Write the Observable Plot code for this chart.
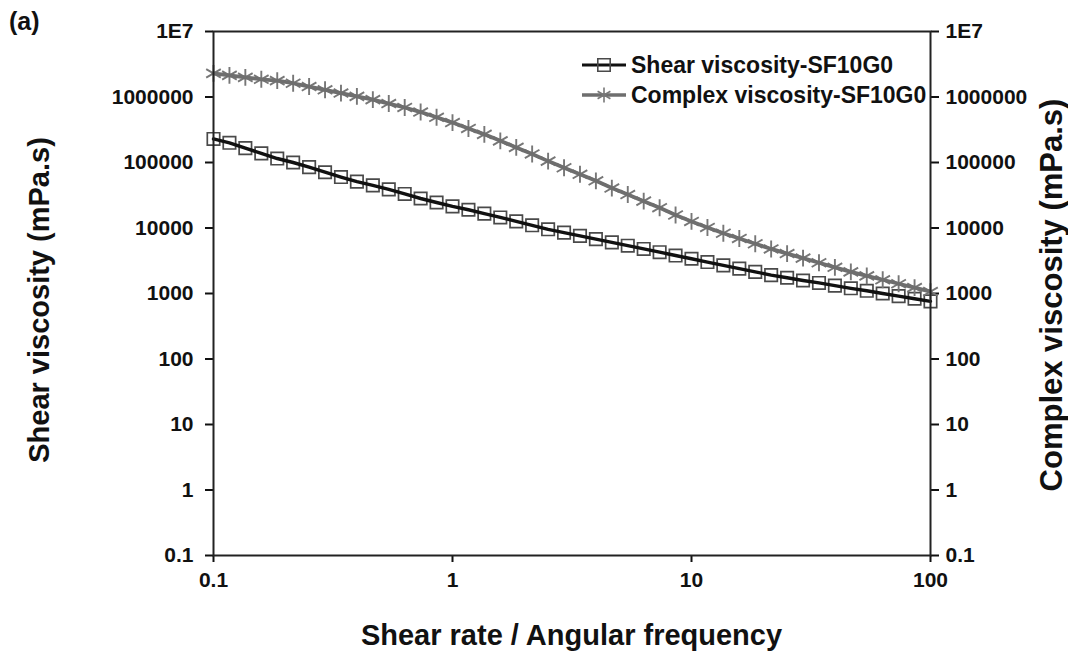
<!DOCTYPE html>
<html><head><meta charset="utf-8">
<script src="https://cdn.jsdelivr.net/npm/d3@7"></script>
<script src="https://cdn.jsdelivr.net/npm/@observablehq/plot@0.6"></script>
<style>
body{margin:0;background:#fff;}
#chart svg{display:block;}
</style>
</head><body><div id="chart"></div>
<script>
const rate = [0.1, 0.1166, 0.1359, 0.1585, 0.1848, 0.2154, 0.2512, 0.2929, 0.3415, 0.3981,
  0.4642, 0.5412, 0.6310, 0.7356, 0.8577, 1, 1.166, 1.359, 1.585, 1.848,
  2.154, 2.512, 2.929, 3.415, 3.981, 4.642, 5.412, 6.310, 7.356, 8.577,
  10, 11.66, 13.59, 15.85, 18.48, 21.54, 25.12, 29.29, 34.15, 39.81,
  46.42, 54.12, 63.10, 73.56, 85.77, 100];
const shearViscosity = [229000, 200000, 166000, 138000, 115000, 100000, 85000, 71000, 60000, 51000,
  44700, 38900, 33100, 28200, 24500, 21400, 19000, 16600, 14500, 12600,
  11000, 9550, 8510, 7590, 6760, 6030, 5370, 4790, 4270, 3800,
  3390, 3020, 2690, 2400, 2140, 1910, 1740, 1580, 1450, 1320,
  1200, 1100, 1000, 912, 832, 759];
const complexViscosity = [2291000, 2138000, 1995000, 1862000, 1778000, 1622000, 1445000, 1288000, 1148000, 1023000,
  912000, 794000, 692000, 589000, 490000, 407000, 331000, 269000, 214000, 170000,
  135000, 105000, 83200, 66100, 52500, 40700, 32400, 25700, 20400, 15800,
  12600, 10200, 8320, 6920, 5750, 4790, 4070, 3470, 2950, 2510,
  2140, 1860, 1620, 1410, 1230, 1070];
const yTicks = [0.1, 1, 10, 100, 1000, 10000, 100000, 1000000, 10000000];
const yTickLabels = ["0.1", "1", "10", "100", "1000", "10000", "100000", "1000000", "1E7"];
const xTicks = [0.1, 1, 10, 100];
const xTickLabels = ["0.1", "1", "10", "100"];
const seriesNames = ["Shear viscosity-SF10G0", "Complex viscosity-SF10G0"];
const xTitle = "Shear rate / Angular frequency";
const yLeftTitle = "Shear viscosity (mPa.s)";
const yRightTitle = "Complex viscosity (mPa.s)";
const panelLabel = "(a)";

const shear = rate.map((x, i) => ({x, y: shearViscosity[i]}));
const complex = rate.map((x, i) => ({x, y: complexViscosity[i]}));
const fmtY = d => yTickLabels[yTicks.indexOf(d)];
const fmtX = d => xTickLabels[xTicks.indexOf(d)];

const FONT = "'Liberation Sans', Arial, sans-serif";
const W = 1068, H = 655;
const mL = 213, mR = 138, mT = 31, mB = 100;

const chart = Plot.plot({
  width: W, height: H,
  marginLeft: mL, marginRight: mR, marginTop: mT, marginBottom: mB,
  style: {fontFamily: FONT, fontWeight: "bold", fontSize: "21px", color: "#111", background: "#fff", overflow: "visible"},
  x: {type: "log", domain: [0.1, 100]},
  y: {type: "log", domain: [0.1, 1e7]},
  marks: [
    Plot.axisX({ticks: xTicks, tickFormat: fmtX, tickSize: 7, tickPadding: 10, strokeWidth: 2, label: null}),
    Plot.axisY({anchor: "left", ticks: yTicks, tickFormat: fmtY, tickSize: 8, tickPadding: 12, strokeWidth: 2, label: null}),
    Plot.axisY({anchor: "right", ticks: yTicks, tickFormat: fmtY, tickSize: 8, tickPadding: 7, strokeWidth: 2, label: null}),
    Plot.dot(shear, {x: "x", y: "y", symbol: "square", r: 7, stroke: "#4a4a4a", strokeWidth: 1.7, fill: "none"}),
    Plot.line(shear, {x: "x", y: "y", stroke: "#111", strokeWidth: 3.4}),
    Plot.dot(complex, {x: "x", y: "y", symbol: "asterisk", r: 8, stroke: "#777", strokeWidth: 1.9}),
    Plot.line(complex, {x: "x", y: "y", stroke: "#6e6e6e", strokeWidth: 3.8}),
    Plot.frame({stroke: "#222", strokeWidth: 2})
  ]
});
document.getElementById("chart").appendChild(chart);

const svg = d3.select(chart);
const g = svg.append("g").attr("font-family", FONT).attr("font-weight", "bold")
  .attr("fill", "#111").attr("text-anchor", "start");

// panel label
g.append("text").attr("x", 9).attr("y", 30).attr("font-size", 25).text(panelLabel);

// axis titles
g.append("text").attr("x", (mL + W - mR) / 2).attr("y", 645).attr("text-anchor", "middle")
  .attr("font-size", 29).text(xTitle);
g.append("text").attr("transform", `translate(49,300) rotate(-90)`)
  .attr("text-anchor", "middle").attr("font-size", 29).text(yLeftTitle);
g.append("text").attr("transform", `translate(1062,295) rotate(-90)`)
  .attr("text-anchor", "middle").attr("font-size", 31).text(yRightTitle);

// legend
const legend = [
  {name: seriesNames[0], line: "#111", lw: 3.2, sym: d3.symbolSquare, sStroke: "#4a4a4a"},
  {name: seriesNames[1], line: "#6e6e6e", lw: 3.6, sym: d3.symbolAsterisk, sStroke: "#777"}
];
legend.forEach((d, i) => {
  const y = 65 + i * 30;
  const lg = g.append("g");
  lg.append("line").attr("x1", 582).attr("x2", 626).attr("y1", y).attr("y2", y)
    .attr("stroke", d.line).attr("stroke-width", d.lw);
  lg.append("path").attr("d", d3.symbol(d.sym, Math.PI * 49)())
    .attr("transform", `translate(604,${y})`).attr("fill", "none")
    .attr("stroke", d.sStroke).attr("stroke-width", 1.6);
  lg.append("text").attr("x", 631).attr("y", y).attr("dy", "0.36em")
    .attr("font-size", 23).text(d.name);
});
</script>
</body></html>
